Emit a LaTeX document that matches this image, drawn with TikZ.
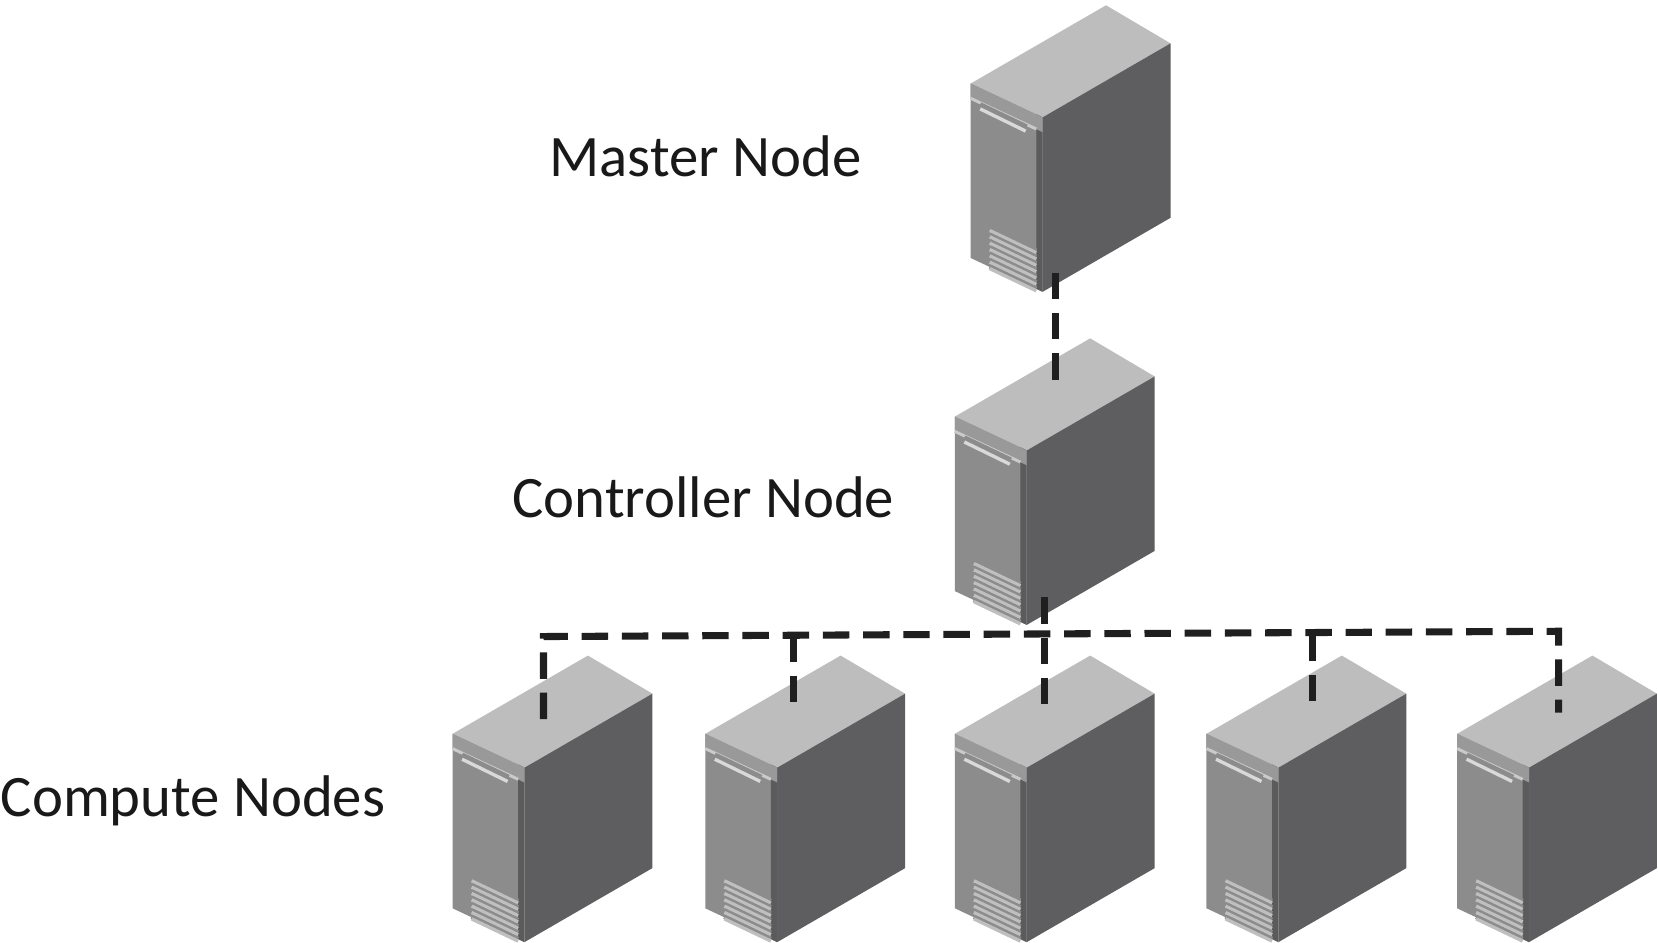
\documentclass[tikz,border=0pt]{standalone}
\usepackage{fontspec}
\setmainfont{Carlito}
\definecolor{topc}{HTML}{BDBDBD}
\definecolor{frontc}{HTML}{8C8C8C}
\definecolor{sidec}{HTML}{5E5E60}
\definecolor{bandc}{HTML}{999999}
\tikzset{
  lbl/.style={anchor=base west,inner sep=0,font=\fontsize{15.8pt}{18pt}\selectfont,text=black!90},
  link/.style={line width=1.9pt,dash pattern=on 0.25cm off 0.13cm,draw=black!88},
  pics/server/.style={code={
    \fill[topc] (0,0) -- (68,32) -- (189,-38) -- (128,-74) -- cycle;
    \fill[sidec] (68,32) -- (189,-38) -- (189,127) -- (68,197) -- cycle;
    \fill[frontc] (0,0) -- (68,32) -- (68,197) -- (0,165) -- cycle;
    \fill[black!35!frontc] (62,29) -- (68,32) -- (68,197) -- (62,194) -- cycle;
    \fill[bandc] (0,0) -- (68,32) -- (68,46) -- (0,14) -- cycle;
    \draw[topc!80,line width=0.8pt] (0,14) -- (62,43);
    \draw[black!45,line width=2.6pt] (8,22) -- (52,43);
    \draw[white!85!black,line width=0.9pt] (9,24) -- (52,45);
    \foreach \k in {0,...,6}{
      \draw[black!45,line width=1.2pt] (18,{137+6*\k}) -- (62,{158+6*\k});
      \draw[white!75!black,line width=0.9pt] (18,{139+6*\k}) -- (62,{160+6*\k});
    }
  }}
}
\begin{document}
\begin{tikzpicture}[x=0.01cm,y=-0.01cm]
\useasboundingbox (0,0) rectangle (1568,891);
\pic at (918,79) {server};
\pic at (903,394) {server};
\foreach \x/\n in {428/1,667/2,903/3,1141/4,1378/5}{
  \pic at (\x,694) {server};
}
\coordinate (m) at (998,258);
\coordinate (c) at (988,565);
\coordinate (ctop) at (998,370);
\coordinate (b1) at (514,602); \coordinate (d1) at (514,680);
\coordinate (b2) at (750,601); \coordinate (d2) at (750,676);
\coordinate (d3) at (988,678);
\coordinate (b4) at (1241,600); \coordinate (d4) at (1241,676);
\coordinate (b5) at (1474,597); \coordinate (d5) at (1474,674);
\draw[link] (m) -- (ctop);
\draw[link] (c) -- (d3);
\draw[link] (d1) -- (b1) -- (b5) -- (d5);
\draw[link] (b2) -- (d2);
\draw[link] (b4) -- (d4);
\node[lbl] (tm) at (519,167) {Master Node};
\node[lbl] (tc) at (484,489) {Controller Node};
\node[lbl] (tn) at (0,772) {Compute Nodes};
\end{tikzpicture}
\end{document}
